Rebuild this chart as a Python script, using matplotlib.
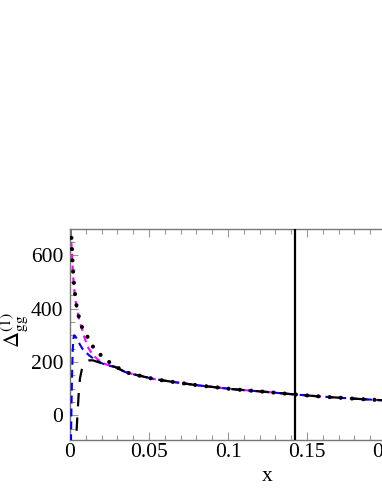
import matplotlib.pyplot as plt
from matplotlib.ticker import MultipleLocator

plt.rcParams['font.family'] = ['Liberation Serif', 'DejaVu Serif']
plt.rcParams['mathtext.fontset'] = 'stix'

# common tail where all curves coincide
x_tail = [0.035, 0.040, 0.0538, 0.0675, 0.0812, 0.1034, 0.1245, 0.1435, 0.1603, 0.1815, 0.1951, 0.215, 0.25]
y_tail = [162, 154, 135, 123, 112, 97.5, 87.4, 77.3, 69.5, 61.5, 57, 50, 42]

# black dotted
x_dot = [0.0003, 0.0006, 0.0011, 0.0014, 0.0018, 0.0022, 0.0027, 0.0034, 0.0042, 0.0055, 0.0072,
         0.0106, 0.0139, 0.0185, 0.0232, 0.0287]
y_dot = [750, 694, 645, 600, 555, 515, 480, 445, 408, 372, 335, 300, 262, 231, 206, 184]

# magenta dashed
x_mag = [0.0003, 0.0006, 0.0011, 0.0015, 0.002, 0.0027, 0.0036, 0.0048, 0.0062, 0.0075, 0.009,
         0.011, 0.0135, 0.016, 0.019, 0.0232, 0.0287]
y_mag = [740, 680, 620, 570, 520, 470, 425, 385, 350, 325, 295, 258, 235, 218, 202, 190, 181]

# blue dashed
x_blu = [0.0005, 0.0009, 0.0013, 0.0017, 0.0021, 0.0026, 0.0033, 0.0045, 0.006, 0.0078, 0.0095,
         0.012, 0.015, 0.0184, 0.0228, 0.0287]
y_blu = [-150, 20, 150, 240, 285, 300, 297, 285, 268, 250, 240, 225, 212, 200, 188, 181]

# black dashed
x_bld = [0.0036, 0.0039, 0.0042, 0.0048, 0.0055, 0.0063, 0.0075, 0.009, 0.0115, 0.0145,
         0.0175, 0.0228, 0.0287]
y_bld = [-150, -100, -55, 10, 80, 138, 172, 195, 206, 206, 200, 190, 181]

x_vline = 0.1424

fig = plt.figure(figsize=(3.82, 4.94), dpi=100)
ax = fig.add_axes([70 / 382, 54 / 494, 395 / 382, 211 / 494])

ax.plot(x_mag + x_tail, y_mag + y_tail, color='#ff00ff', lw=1.5, ls=(0, (3.3, 2.4)), zorder=2)
ax.plot(x_blu + x_tail, y_blu + y_tail, color='#0000ff', lw=1.5, ls=(0, (3.8, 2.4)), zorder=3)
ax.plot(x_bld + x_tail, y_bld + y_tail, color='black', lw=1.6, ls=(0, (6, 5)), zorder=4)
ax.plot(x_dot + x_tail, y_dot + y_tail, color='black', lw=3.0, ls=(0, (0.001, 2.7)),
        dash_capstyle='round', zorder=5)
ax.axvline(x_vline, color='black', lw=1.6, zorder=6)

ax.set_xlim(0, 0.25)
ax.set_ylim(-93, 699)

ax.set_xticks([0, 0.05, 0.1, 0.15, 0.2])
ax.set_xticklabels(['0', '0.05', '0.1', '0.15', '0.2'])
ax.set_yticks([0, 200, 400, 600])
ax.set_yticklabels(['0', '200', '400', '600'])
ax.xaxis.set_minor_locator(MultipleLocator(0.01))
ax.yaxis.set_minor_locator(MultipleLocator(50))
ax.tick_params(which='both', direction='in', top=True, right=True, color='#999999',
               labelsize=15.5, width=0.8)
ax.tick_params(which='major', length=6)
ax.tick_params(which='minor', length=3.5)
ax.tick_params(axis='x', pad=2)
ax.tick_params(axis='y', pad=5)
for s in ax.spines.values():
    s.set_color('#777777')
    s.set_linewidth(1.0)

ax.set_xlabel('x', fontsize=15.5, labelpad=4)
ax.set_ylabel(r'$\Delta^{(1)}_{\mathrm{gg}}$', fontsize=16, va='center', ha='center')
ax.yaxis.set_label_coords(-56 / 395, 0.52)

fig.savefig('out.png', dpi=100)
